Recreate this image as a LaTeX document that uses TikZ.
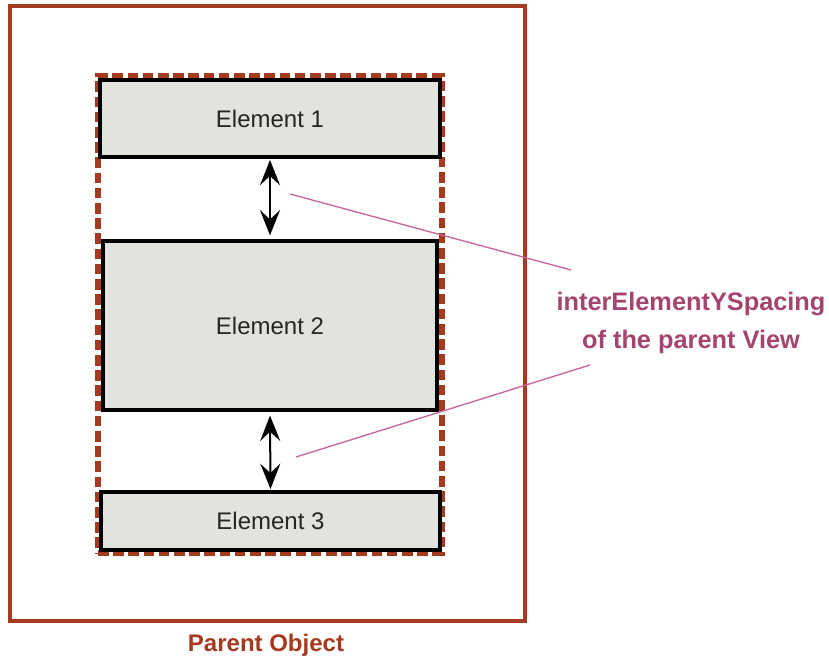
\documentclass[tikz,border=0pt]{standalone}
\usepackage{fontspec}
\setmainfont{Liberation Sans}
\usetikzlibrary{arrows.meta}
\definecolor{frame}{HTML}{A53A1E}
\definecolor{efill}{HTML}{E0E4DC}
\definecolor{lead}{HTML}{C4679A}
\definecolor{lbl}{HTML}{A4446F}
\tikzset{
  elem/.style={draw=black, line width=2.4pt, fill=efill, inner sep=0pt, text=black!85,
    font=\fontsize{18}{22}\selectfont},
  gap/.style={line width=1.5pt, {Stealth[length=19pt,width=15pt,inset=7pt]}-{Stealth[length=19pt,width=15pt,inset=7pt]}},
  leader/.style={draw=lead, line width=1pt},
}
\begin{document}
\begin{tikzpicture}[x=0.75pt,y=-0.75pt]
\useasboundingbox (0,0) rectangle (829,661);
\node[draw=frame, line width=3.4pt, minimum width=386.25pt, minimum height=461.25pt, inner sep=0pt] (outer) at (267.5,313.5) {};
\node[draw=frame, line width=4.2pt, dash pattern=on 8pt off 3.4pt, minimum width=258pt, minimum height=357.75pt, inner sep=0pt] (group) at (270,314.5) {};
\node[elem, minimum width=255pt, minimum height=57.75pt] (e1) at (270,118.5) {Element 1};
\node[elem, minimum width=250.5pt, minimum height=126.75pt] (e2) at (270,325.5) {Element 2};
\node[elem, minimum width=254.25pt, minimum height=43.5pt] (e3) at (270.5,521) {Element 3};
\draw[gap] ([yshift=-1pt]e1.south) -- ([yshift=3pt]e2.north);
\draw[gap] ([yshift=-3pt]e2.south) -- ([yshift=1pt]e3.north);
\node[text=lbl, font=\bfseries\fontsize{19}{29}\selectfont, align=center, inner sep=0pt] (lab) at (691,323) {interElementYSpacing\\of the parent View};
\coordinate (p1) at (290,194);
\coordinate (q1) at (571,270);
\coordinate (p2) at (296,457);
\coordinate (q2) at (590,365);
\draw[leader] (p1) -- (q1);
\draw[leader] (p2) -- (q2);
\node[text=frame, font=\bfseries\fontsize{18}{22}\selectfont, inner sep=0pt] (po) at (266,645) {Parent Object};
\end{tikzpicture}
\end{document}
